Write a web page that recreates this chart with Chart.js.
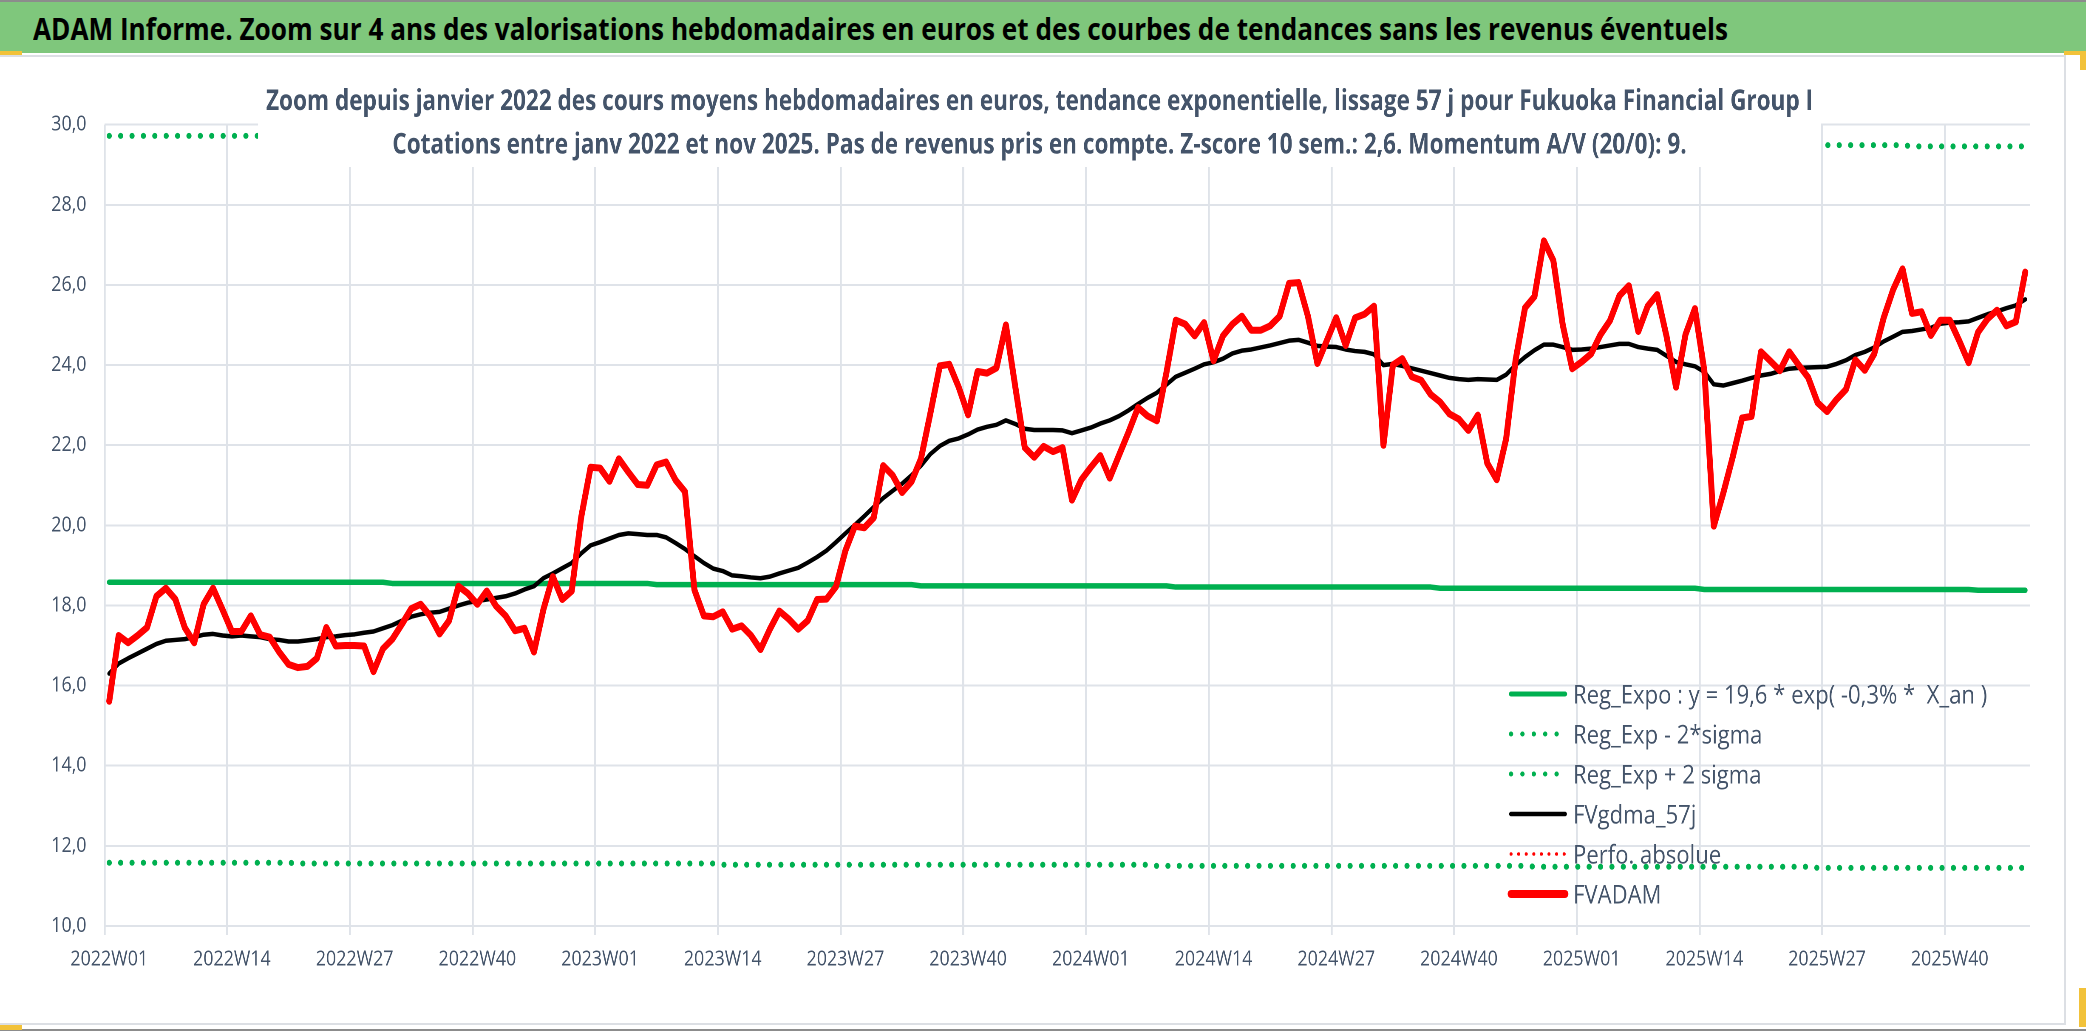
<!DOCTYPE html>
<html lang="fr">
<head>
<meta charset="utf-8">
<title>ADAM Informe - Fukuoka Financial Group</title>
<script src="https://cdn.jsdelivr.net/npm/chart.js@4.4.1/dist/chart.umd.min.js"></script>
<style>
  html, body { margin: 0; padding: 0; background: #fff; }
  body { width: 2086px; height: 1031px; position: relative; overflow: hidden; font-family: "Open Sans", sans-serif; }
  .bandeau { position: absolute; left: 0; top: 0; width: 2086px; height: 53px; background: #7fc77c; box-shadow: inset 0 2px 0 #8c8c8c; }
  .bandeau span { position: absolute; left: 33px; top: 12.5px; font-size: 31px; line-height: 31px; font-weight: 700; color: #000; white-space: nowrap; transform-origin: 0 0; }
  .trait { position: absolute; background: #dcdfe4; }
  .poignee { position: absolute; background: #f2c23a; }
  #cadre { position: absolute; left: 0; top: 57px; height: 964px; transform-origin: 0 0; }
</style>
</head>
<body>
<div class="bandeau"><span>ADAM Informe. Zoom sur 4 ans des valorisations hebdomadaires en euros et des courbes de tendances sans les revenus éventuels</span></div>
<div class="trait" style="left:0;top:55px;width:2066px;height:2px"></div>
<div class="trait" style="left:2064px;top:55px;width:2px;height:970px"></div>
<div class="trait" style="left:0;top:1023px;width:2066px;height:2px"></div>
<div class="trait" style="left:0;top:1029px;width:2086px;height:2px;background:#8c8c8c"></div>
<div class="poignee" style="left:0;top:51px;width:22px;height:4px"></div>
<div class="poignee" style="left:2064px;top:51px;width:22px;height:4px"></div>
<div class="poignee" style="left:2080px;top:51px;width:6px;height:19px"></div>
<div class="poignee" style="left:2079px;top:988px;width:7px;height:39px"></div>
<div class="poignee" style="left:0;top:1025px;width:22px;height:5px"></div>
<div id="cadre"><canvas id="graphique"></canvas></div>

<script>
// cours moyens hebdomadaires en euros, 2022W01 -> 2025W48
const fvadam = [
  15.61, 17.25, 17.07, 17.25, 17.45, 18.23, 18.43, 18.16, 17.45, 17.07, 18.03, 18.43, 17.90,
  17.35, 17.35, 17.74, 17.27, 17.21, 16.84, 16.53, 16.45, 16.48, 16.68, 17.45, 16.99, 17.00,
  17.00, 16.99, 16.35, 16.92, 17.16, 17.53, 17.92, 18.03, 17.74, 17.29, 17.62, 18.48, 18.30,
  18.03, 18.36, 17.98, 17.74, 17.37, 17.43, 16.84, 17.90, 18.72, 18.15, 18.36, 20.20, 21.45,
  21.43, 21.10, 21.66, 21.33, 21.02, 21.00, 21.51, 21.58, 21.13, 20.84, 18.39, 17.74, 17.72,
  17.84, 17.41, 17.49, 17.25, 16.90, 17.41, 17.86, 17.66, 17.41, 17.62, 18.15, 18.16, 18.47,
  19.37, 19.98, 19.94, 20.19, 21.49, 21.25, 20.82, 21.09, 21.66, 22.80, 23.98, 24.02, 23.45,
  22.76, 23.84, 23.80, 23.93, 25.00, 23.45, 21.94, 21.70, 21.97, 21.84, 21.94, 20.63, 21.14,
  21.45, 21.74, 21.18, 21.76, 22.33, 22.94, 22.73, 22.61, 23.80, 25.12, 25.02, 24.73, 25.06,
  24.11, 24.73, 25.02, 25.22, 24.87, 24.87, 24.98, 25.22, 26.04, 26.06, 25.22, 24.04, 24.61,
  25.18, 24.49, 25.18, 25.27, 25.47, 22.00, 24.00, 24.16, 23.71, 23.62, 23.27, 23.08, 22.78,
  22.65, 22.37, 22.75, 21.55, 21.14, 22.16, 24.12, 25.43, 25.71, 27.10, 26.61, 25.00, 23.91,
  24.08, 24.28, 24.76, 25.11, 25.73, 25.98, 24.84, 25.47, 25.76, 24.71, 23.45, 24.76, 25.41,
  23.86, 19.98, 20.80, 21.70, 22.68, 22.72, 24.33, 24.10, 23.86, 24.33, 24.00, 23.69, 23.06,
  22.84, 23.14, 23.39, 24.13, 23.87, 24.28, 25.18, 25.88, 26.40, 25.29, 25.33, 24.74, 25.12,
  25.12, 24.61, 24.06, 24.82, 25.15, 25.37, 24.98, 25.08, 26.32
];

// lissage 57 j
const fvgdma57 = [
  16.30, 16.55, 16.68, 16.80, 16.92, 17.04, 17.12, 17.14, 17.16, 17.21, 17.27, 17.29, 17.25,
  17.23, 17.25, 17.23, 17.21, 17.16, 17.14, 17.10, 17.10, 17.13, 17.16, 17.21, 17.23, 17.26,
  17.28, 17.32, 17.35, 17.43, 17.51, 17.62, 17.72, 17.78, 17.82, 17.84, 17.92, 18.00, 18.07,
  18.11, 18.15, 18.19, 18.23, 18.30, 18.40, 18.48, 18.68, 18.80, 18.93, 19.06, 19.30, 19.50,
  19.58, 19.67, 19.76, 19.80, 19.78, 19.76, 19.76, 19.70, 19.56, 19.41, 19.23, 19.06, 18.92,
  18.86, 18.75, 18.73, 18.70, 18.68, 18.72, 18.80, 18.87, 18.94, 19.07, 19.21, 19.37, 19.58,
  19.80, 20.01, 20.23, 20.46, 20.68, 20.86, 21.04, 21.25, 21.49, 21.78, 21.98, 22.11, 22.17,
  22.27, 22.39, 22.46, 22.51, 22.62, 22.53, 22.41, 22.38, 22.38, 22.38, 22.37, 22.30, 22.37,
  22.44, 22.54, 22.62, 22.73, 22.87, 23.03, 23.18, 23.31, 23.51, 23.71, 23.81, 23.91, 24.02,
  24.07, 24.16, 24.29, 24.36, 24.39, 24.44, 24.49, 24.55, 24.61, 24.63, 24.56, 24.48, 24.46,
  24.45, 24.39, 24.35, 24.33, 24.27, 24.00, 24.03, 23.98, 23.92, 23.86, 23.80, 23.74, 23.68,
  23.65, 23.63, 23.65, 23.64, 23.63, 23.76, 24.00, 24.20, 24.37, 24.51, 24.51, 24.45, 24.38,
  24.39, 24.41, 24.45, 24.49, 24.53, 24.53, 24.45, 24.41, 24.38, 24.23, 24.08, 24.02, 23.97,
  23.83, 23.52, 23.49, 23.55, 23.61, 23.68, 23.74, 23.78, 23.85, 23.91, 23.93, 23.94, 23.95,
  23.96, 24.03, 24.12, 24.25, 24.33, 24.44, 24.59, 24.71, 24.83, 24.85, 24.89, 24.93, 25.03,
  25.06, 25.07, 25.09, 25.18, 25.27, 25.34, 25.42, 25.49, 25.64
];

// Reg_Expo : y = 19,6 * exp(-0,3% * X_an)
const regExpo = [
  18.58, 18.58, 18.58, 18.58, 18.58, 18.58, 18.58, 18.58, 18.58, 18.58, 18.58, 18.58, 18.58,
  18.58, 18.58, 18.58, 18.58, 18.58, 18.58, 18.58, 18.58, 18.58, 18.58, 18.58, 18.58, 18.58,
  18.58, 18.58, 18.58, 18.58, 18.55, 18.55, 18.55, 18.55, 18.55, 18.55, 18.55, 18.55, 18.55,
  18.55, 18.55, 18.55, 18.55, 18.55, 18.55, 18.55, 18.55, 18.55, 18.55, 18.55, 18.55, 18.55,
  18.55, 18.55, 18.55, 18.55, 18.55, 18.55, 18.52, 18.52, 18.52, 18.52, 18.52, 18.52, 18.52,
  18.52, 18.52, 18.52, 18.52, 18.52, 18.52, 18.52, 18.52, 18.52, 18.52, 18.52, 18.52, 18.52,
  18.52, 18.52, 18.52, 18.52, 18.52, 18.52, 18.52, 18.52, 18.49, 18.49, 18.49, 18.49, 18.49,
  18.49, 18.49, 18.49, 18.49, 18.49, 18.49, 18.49, 18.49, 18.49, 18.49, 18.49, 18.49, 18.49,
  18.49, 18.49, 18.49, 18.49, 18.49, 18.49, 18.49, 18.49, 18.49, 18.46, 18.46, 18.46, 18.46,
  18.46, 18.46, 18.46, 18.46, 18.46, 18.46, 18.46, 18.46, 18.46, 18.46, 18.46, 18.46, 18.46,
  18.46, 18.46, 18.46, 18.46, 18.46, 18.46, 18.46, 18.46, 18.46, 18.46, 18.46, 18.43, 18.43,
  18.43, 18.43, 18.43, 18.43, 18.43, 18.43, 18.43, 18.43, 18.43, 18.43, 18.43, 18.43, 18.43,
  18.43, 18.43, 18.43, 18.43, 18.43, 18.43, 18.43, 18.43, 18.43, 18.43, 18.43, 18.43, 18.43,
  18.40, 18.40, 18.40, 18.40, 18.40, 18.40, 18.40, 18.40, 18.40, 18.40, 18.40, 18.40, 18.40,
  18.40, 18.40, 18.40, 18.40, 18.40, 18.40, 18.40, 18.40, 18.40, 18.40, 18.40, 18.40, 18.40,
  18.40, 18.40, 18.40, 18.38, 18.38, 18.38, 18.38, 18.38, 18.38
];

// Reg_Exp - 2*sigma
const regMoins2s = [
  11.58, 11.58, 11.58, 11.58, 11.58, 11.58, 11.58, 11.58, 11.58, 11.58, 11.58, 11.58, 11.58,
  11.58, 11.58, 11.58, 11.58, 11.58, 11.58, 11.58, 11.56, 11.56, 11.56, 11.56, 11.56, 11.56,
  11.56, 11.56, 11.56, 11.56, 11.56, 11.56, 11.56, 11.56, 11.56, 11.56, 11.56, 11.56, 11.56,
  11.56, 11.56, 11.56, 11.56, 11.56, 11.56, 11.56, 11.56, 11.56, 11.56, 11.56, 11.56, 11.56,
  11.56, 11.56, 11.56, 11.56, 11.56, 11.56, 11.56, 11.56, 11.56, 11.56, 11.56, 11.56, 11.56,
  11.53, 11.53, 11.53, 11.53, 11.53, 11.53, 11.53, 11.53, 11.53, 11.53, 11.53, 11.53, 11.53,
  11.53, 11.53, 11.53, 11.53, 11.53, 11.53, 11.53, 11.53, 11.53, 11.53, 11.53, 11.53, 11.53,
  11.53, 11.53, 11.53, 11.53, 11.53, 11.53, 11.53, 11.53, 11.53, 11.53, 11.53, 11.53, 11.53,
  11.53, 11.53, 11.53, 11.53, 11.53, 11.53, 11.53, 11.50, 11.50, 11.50, 11.50, 11.50, 11.50,
  11.50, 11.50, 11.50, 11.50, 11.50, 11.50, 11.50, 11.50, 11.50, 11.50, 11.50, 11.50, 11.50,
  11.50, 11.50, 11.50, 11.50, 11.50, 11.50, 11.50, 11.50, 11.50, 11.50, 11.50, 11.50, 11.50,
  11.50, 11.50, 11.50, 11.50, 11.50, 11.50, 11.50, 11.50, 11.48, 11.48, 11.48, 11.48, 11.48,
  11.48, 11.48, 11.48, 11.48, 11.48, 11.48, 11.48, 11.48, 11.48, 11.48, 11.48, 11.48, 11.48,
  11.48, 11.48, 11.48, 11.48, 11.48, 11.48, 11.48, 11.48, 11.48, 11.48, 11.48, 11.48, 11.45,
  11.45, 11.45, 11.45, 11.45, 11.45, 11.45, 11.45, 11.45, 11.45, 11.45, 11.45, 11.45, 11.45,
  11.45, 11.45, 11.45, 11.45, 11.45, 11.45, 11.45, 11.45, 11.45
];

// Reg_Exp + 2 sigma
const regPlus2s = [
  29.72, 29.72, 29.72, 29.72, 29.72, 29.72, 29.72, 29.72, 29.72, 29.72, 29.72, 29.72, 29.72,
  29.72, 29.72, 29.72, 29.72, 29.72, 29.72, 29.72, 29.68, 29.68, 29.68, 29.68, 29.68, 29.68,
  29.68, 29.68, 29.68, 29.68, 29.68, 29.68, 29.68, 29.68, 29.68, 29.68, 29.68, 29.68, 29.68,
  29.68, 29.68, 29.68, 29.68, 29.68, 29.68, 29.68, 29.68, 29.68, 29.68, 29.68, 29.68, 29.64,
  29.64, 29.64, 29.64, 29.64, 29.64, 29.64, 29.64, 29.64, 29.64, 29.64, 29.64, 29.64, 29.64,
  29.64, 29.64, 29.64, 29.64, 29.64, 29.64, 29.64, 29.64, 29.64, 29.64, 29.64, 29.64, 29.64,
  29.64, 29.64, 29.64, 29.60, 29.60, 29.60, 29.60, 29.60, 29.60, 29.60, 29.60, 29.60, 29.60,
  29.60, 29.60, 29.60, 29.60, 29.60, 29.60, 29.60, 29.60, 29.60, 29.60, 29.60, 29.60, 29.60,
  29.60, 29.60, 29.60, 29.60, 29.60, 29.60, 29.60, 29.56, 29.56, 29.56, 29.56, 29.56, 29.56,
  29.56, 29.56, 29.56, 29.56, 29.56, 29.56, 29.56, 29.56, 29.56, 29.56, 29.56, 29.56, 29.56,
  29.56, 29.56, 29.56, 29.56, 29.56, 29.56, 29.56, 29.56, 29.56, 29.56, 29.56, 29.52, 29.52,
  29.52, 29.52, 29.52, 29.52, 29.52, 29.52, 29.52, 29.52, 29.52, 29.52, 29.52, 29.52, 29.52,
  29.52, 29.52, 29.52, 29.52, 29.52, 29.52, 29.52, 29.52, 29.52, 29.52, 29.52, 29.52, 29.52,
  29.52, 29.52, 29.49, 29.49, 29.49, 29.49, 29.49, 29.49, 29.49, 29.49, 29.49, 29.49, 29.49,
  29.49, 29.49, 29.49, 29.49, 29.49, 29.49, 29.49, 29.49, 29.49, 29.46, 29.46, 29.46, 29.46,
  29.46, 29.46, 29.46, 29.46, 29.46, 29.46, 29.46, 29.46, 29.46
];

// pas de valeur visible dans la fenetre
const perfoAbsolue = [];

// semaines 2022W01 -> 2025W48
const semaines = [];
for (let an = 2022; an <= 2025; an++) {
  for (let s = 1; s <= 52 && semaines.length < fvadam.length; s++) {
    semaines.push(an + 'W' + String(s).padStart(2, '0'));
  }
}

const sousTitre = [
  'Zoom depuis janvier 2022 des cours moyens hebdomadaires en euros, tendance exponentielle, lissage 57 j pour Fukuoka Financial Group I',
  'Cotations entre janv 2022 et nov 2025. Pas de revenus pris en compte. Z-score 10 sem.: 2,6. Momentum A/V (20/0): 9.'
];
const nomsSeries = ['Reg_Expo : y = 19,6 * exp( -0,3% *  X_an )', 'Reg_Exp - 2*sigma', 'Reg_Exp + 2 sigma', 'FVgdma_57j', 'Perfo. absolue', 'FVADAM'];

// le rendu d'origine est resserre horizontalement
const SERRAGE = 0.85;
const px = x => x / SERRAGE;
const VERT = '#00b050';
const ROUGE = '#ff0000';
const GRILLE = '#dfe3e9';
const TEXTE = '#44546a';

let titre = document.querySelector('.bandeau span');
titre.style.transform = 'scaleX(' + (1695 / titre.offsetWidth) + ')';

let cadre = document.getElementById('cadre');
cadre.style.width = px(2064) + 'px';
cadre.style.transform = 'scaleX(' + SERRAGE + ')';

const cartouche = {
  id: 'cartouche',
  afterDatasetsDraw(chart) {
    const ctx = chart.ctx;
    ctx.save();
    // cadre blanc du titre, par-dessus la grille
    ctx.fillStyle = '#fff';
    ctx.fillRect(px(258), 12, px(1821) - px(258), 98);
    ctx.fillStyle = TEXTE;
    ctx.font = "700 29px 'Open Sans'";
    ctx.textAlign = 'center';
    ctx.textBaseline = 'alphabetic';
    const resserre = px(1547) / ctx.measureText(sousTitre[0]).width;
    [53, 96.5].forEach((y, i) => {
      ctx.save();
      ctx.translate(px(1039.5), y);
      ctx.scale(resserre, 1);
      ctx.fillText(sousTitre[i], 0, 0);
      ctx.restore();
    });

    // legende dans la zone de trace
    ctx.font = "26px 'Open Sans'";
    ctx.textAlign = 'left';
    chart.data.datasets.forEach((ds, i) => {
      const y = 637 + i * 40;
      ctx.beginPath();
      ctx.strokeStyle = ds.borderColor;
      ctx.lineWidth = ds.legendWidth || ds.borderWidth;
      ctx.lineCap = 'round';
      ctx.setLineDash(ds.borderDash || []);
      ctx.moveTo(px(1511), y);
      ctx.lineTo(px(1565), y);
      ctx.stroke();
      ctx.setLineDash([]);
      ctx.fillText(ds.label, px(1573), y + 9.3);
    });
    ctx.restore();
  }
};

const grafico = new Chart(document.getElementById('graphique'), {
  type: 'line',
  data: {
    labels: semaines,
    datasets: [
      { label: nomsSeries[0], data: regExpo, borderColor: VERT, borderWidth: 5.5, legendWidth: 5, order: 5 },
      { label: nomsSeries[1], data: regMoins2s, borderColor: VERT, borderWidth: 6, borderDash: [0.1, px(11.3)], borderCapStyle: 'round', legendWidth: 5, order: 4 },
      { label: nomsSeries[2], data: regPlus2s, borderColor: VERT, borderWidth: 6, borderDash: [0.1, px(11.3)], borderCapStyle: 'round', legendWidth: 5, order: 3 },
      { label: nomsSeries[3], data: fvgdma57, borderColor: '#000', borderWidth: 4.5, order: 2 },
      { label: nomsSeries[4], data: perfoAbsolue, borderColor: ROUGE, borderWidth: 3.5, borderDash: [0.1, px(7.5)], borderCapStyle: 'round', order: 1 },
      { label: nomsSeries[5], data: fvadam, borderColor: ROUGE, borderWidth: 7, legendWidth: 8, order: 0 }
    ]
  },
  options: {
    responsive: true,
    maintainAspectRatio: false,
    animation: false,
    devicePixelRatio: 2,
    layout: { padding: { left: 0, right: px(2064 - 2030), top: 67.7, bottom: 36.8 } },
    elements: {
      point: { radius: 0, hitRadius: 0 },
      line: { tension: 0, borderJoinStyle: 'round', borderCapStyle: 'round' }
    },
    plugins: { legend: { display: false }, tooltip: { enabled: false }, title: { display: false } },
    scales: {
      x: {
        offset: true,
        border: { display: false },
        grid: {
          offset: true,
          tickLength: 9,
          lineWidth: px(2),
          color: c => c.index % 13 === 0 ? GRILLE : 'transparent'
        },
        ticks: {
          autoSkip: false,
          maxRotation: 0,
          minRotation: 0,
          padding: 12,
          color: TEXTE,
          font: { family: "'Open Sans'", size: 21 },
          callback: function (v, i) { return i % 13 === 0 ? this.getLabelForValue(v) : ''; }
        }
      },
      y: {
        min: 10,
        max: 30,
        afterFit: s => { s.width = px(104.5); },
        border: { display: false },
        grid: { color: GRILLE, lineWidth: 2, drawTicks: false },
        ticks: {
          stepSize: 2,
          padding: px(18),
          color: TEXTE,
          font: { family: "'Open Sans'", size: 21 },
          callback: v => v.toFixed(1).replace('.', ',')
        }
      }
    }
  },
  plugins: [cartouche]
});
</script>
</body>
</html>
